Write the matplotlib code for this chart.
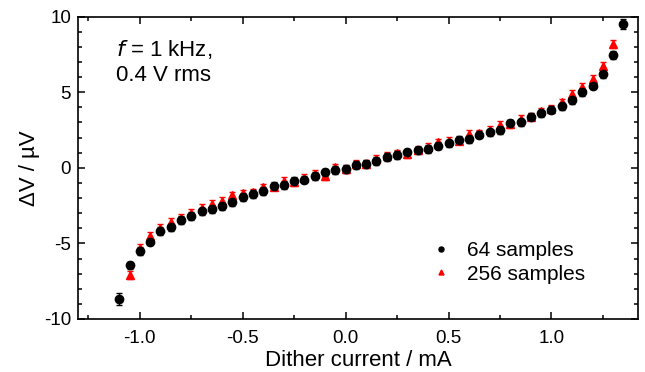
import matplotlib
matplotlib.use('Agg')
import matplotlib.pyplot as plt
from matplotlib.ticker import MultipleLocator

plt.rcParams['font.family'] = ['Liberation Sans', 'DejaVu Sans']
plt.rcParams['axes.unicode_minus'] = False

# 64 samples (black)
x_64 = [-1.1, -1.05, -1.0, -0.95, -0.9, -0.85, -0.8, -0.75, -0.7, -0.65,
        -0.6, -0.55, -0.5, -0.45, -0.4, -0.35, -0.3, -0.25, -0.2, -0.15,
        -0.1, -0.05, 0.0, 0.05, 0.1, 0.15, 0.2, 0.25, 0.3, 0.35,
        0.4, 0.45, 0.5, 0.55, 0.6, 0.65, 0.7, 0.75, 0.8, 0.85,
        0.9, 0.95, 1.0, 1.05, 1.1, 1.15, 1.2, 1.25, 1.3, 1.35]
y_64 = [-8.7, -6.45, -5.5, -4.88, -4.17, -3.9, -3.47, -3.18, -2.89, -2.74,
        -2.52, -2.25, -1.92, -1.74, -1.52, -1.19, -1.15, -0.86, -0.79, -0.53,
        -0.31, -0.15, -0.09, 0.2, 0.24, 0.46, 0.73, 0.86, 1.01, 1.15,
        1.24, 1.46, 1.61, 1.83, 1.9, 2.19, 2.34, 2.5, 2.93, 3.0,
        3.38, 3.6, 3.84, 4.06, 4.48, 5.0, 5.43, 6.2, 7.46, 9.5]
e_64 = [0.4] + [0.25] * 48 + [0.35]

# 256 samples (red)
x_256 = [-1.05, -1.0, -0.95, -0.9, -0.85, -0.8, -0.75, -0.7, -0.65,
         -0.6, -0.55, -0.5, -0.45, -0.4, -0.35, -0.3, -0.25, -0.2, -0.15,
         -0.1, -0.05, 0.0, 0.05, 0.1, 0.15, 0.2, 0.25, 0.3, 0.35,
         0.4, 0.45, 0.5, 0.55, 0.6, 0.65, 0.7, 0.75, 0.8, 0.85,
         0.9, 0.95, 1.0, 1.05, 1.1, 1.15, 1.2, 1.25, 1.3]
y_256 = [-7.09, -5.3, -4.5, -3.95, -3.6, -3.29, -2.96, -2.63, -2.41,
         -2.17, -1.83, -1.7, -1.63, -1.3, -1.25, -0.88, -0.95, -0.65, -0.42,
         -0.53, 0.02, -0.09, 0.28, 0.28, 0.58, 0.79, 0.95, 0.88, 1.2,
         1.39, 1.68, 1.79, 1.8, 2.23, 2.27, 2.5, 2.83, 2.9, 3.23,
         3.38, 3.73, 3.89, 4.32, 4.88, 5.36, 5.87, 6.75, 8.19]
e_256 = [0.25] * len(x_256)

fig = plt.figure(figsize=(6.45, 3.72), dpi=100)
ax = fig.add_axes([0.121, 0.1425, 0.868, 0.813])

h256 = ax.errorbar(x_256, y_256, yerr=e_256, fmt='^', color='red', ms=6,
                   capsize=2.5, elinewidth=1, capthick=1, mec='red')
h64 = ax.errorbar(x_64, y_64, yerr=e_64, fmt='o', color='black', ms=6,
                  capsize=2.5, elinewidth=1, capthick=1)

ax.set_xlim(-1.3, 1.42)
ax.set_ylim(-10, 10)
ax.xaxis.set_major_locator(MultipleLocator(0.5))
ax.xaxis.set_minor_locator(MultipleLocator(0.25))
ax.yaxis.set_major_locator(MultipleLocator(5))
ax.yaxis.set_minor_locator(MultipleLocator(1))
ax.xaxis.set_major_formatter(plt.FuncFormatter(lambda v, p: '%.1f' % v))
ax.tick_params(which='both', direction='in', top=True, right=True,
               labelsize=13.5, width=1.1)
ax.tick_params(which='major', length=5)
ax.tick_params(which='minor', length=3)
ax.tick_params(axis='x', which='major', pad=8)
ax.tick_params(axis='y', which='major', pad=5)
for s in ax.spines.values():
    s.set_linewidth(1.2)

ax.set_xlabel('Dither current / mA', fontsize=16, labelpad=2)
ax.set_ylabel('ΔV / µV', fontsize=16, labelpad=3)

ax.text(0.068, 0.85, '$f$ = 1 kHz,\n0.4 V rms', transform=ax.transAxes,
        fontsize=16, va='center', ha='left', linespacing=1.2)

ax.legend([h64[0], h256[0]], ['64 samples', '256 samples'], loc='lower right',
          bbox_to_anchor=(0.94, 0.055), frameon=False, fontsize=15,
          markerscale=0.6, handletextpad=0.5, handlelength=1.5,
          labelspacing=0.2)

fig.savefig('out.png', dpi=100)
